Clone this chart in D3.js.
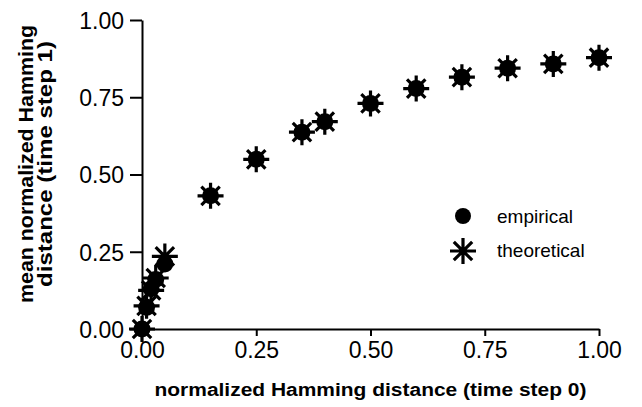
<!DOCTYPE html>
<html>
<head>
<meta charset="utf-8">
<script src="https://cdn.jsdelivr.net/npm/d3@7"></script>
<style>
  html, body { margin: 0; padding: 0; background: #fff; }
  svg { display: block; }
  text { font-family: "Liberation Sans", Arial, sans-serif; fill: #000; }
</style>
</head>
<body>
<svg id="chart" width="642" height="407"></svg>
<script>
// ---- data ----
const xValues = [0, 0.01, 0.02, 0.03, 0.05, 0.15, 0.25, 0.35, 0.40, 0.50, 0.60, 0.70, 0.80, 0.90, 1.00];
const empirical = [0, 0.07, 0.13, 0.16, 0.21, 0.431, 0.549, 0.637, 0.671, 0.730, 0.778, 0.815, 0.844, 0.858, 0.878];
const theoretical = [0, 0.075, 0.125, 0.165, 0.235, 0.431, 0.549, 0.637, 0.671, 0.730, 0.778, 0.815, 0.844, 0.858, 0.878];
const xTicks = [0, 0.25, 0.5, 0.75, 1.0];
const yTicks = [0, 0.25, 0.5, 0.75, 1.0];
const seriesNames = ["empirical", "theoretical"];
const xTitle = "normalized Hamming distance (time step 0)";
const yTitleLines = ["mean normalized Hamming", "distance (time step 1)"];

// ---- layout ----
const svg = d3.select("#chart");
const x = d3.scaleLinear().domain([0, 1]).range([142, 599]);
const y = d3.scaleLinear().domain([0, 1]).range([329, 20]);

function starPath(r) {
  const p = d3.path();
  for (let k = 0; k < 4; k++) {
    const a = k * Math.PI / 4;
    p.moveTo(-r * Math.cos(a), -r * Math.sin(a));
    p.lineTo(r * Math.cos(a), r * Math.sin(a));
  }
  return p.toString();
}
const STAR = starPath(13);

// axes
const xAxis = d3.axisBottom(x).tickValues(xTicks).tickFormat(d3.format(".2f")).tickSizeInner(7).tickSizeOuter(0).tickPadding(5);
const yAxis = d3.axisLeft(y).tickValues(yTicks).tickFormat(d3.format(".2f")).tickSizeInner(12).tickSizeOuter(0).tickPadding(6);

const gx = svg.append("g").attr("transform", `translate(0,${y(0)})`).call(xAxis);
const gy = svg.append("g").attr("transform", `translate(${x(0)},0)`).call(yAxis);
[gx, gy].forEach(g => {
  g.select(".domain").attr("stroke", "#000").attr("stroke-width", 2);
  g.selectAll(".tick line").attr("stroke", "#000").attr("stroke-width", 2);
  g.selectAll(".tick text").attr("fill", "#000")
    .style("font-family", '"Liberation Sans", Arial, sans-serif');
});
gx.selectAll(".tick text").style("font-size", "23px").attr("dy", "0.72em");
gy.selectAll(".tick text").style("font-size", "23px").attr("dy", "0.36em");

// titles
svg.append("text")
  .attr("x", (x(0) + x(1)) / 2 + 0).attr("y", 396)
  .attr("text-anchor", "middle")
  .attr("textLength", 432).attr("lengthAdjust", "spacingAndGlyphs")
  .style("font-size", "18px").style("font-weight", "bold")
  .text(xTitle);

const yt = svg.append("text")
  .attr("transform", "translate(0,164) rotate(-90)")
  .attr("text-anchor", "middle")
  .style("font-size", "20px").style("font-weight", "bold");
yt.append("tspan").attr("x", 0).attr("y", 33).attr("textLength", 278).attr("lengthAdjust", "spacingAndGlyphs").text(yTitleLines[0]);
yt.append("tspan").attr("x", 0).attr("y", 52).attr("textLength", 246).attr("lengthAdjust", "spacingAndGlyphs").text(yTitleLines[1]);

// marks
const plot = svg.append("g");
plot.selectAll("circle.emp").data(xValues.map((d, i) => [d, empirical[i]]))
  .join("circle").attr("class", "emp")
  .attr("cx", d => x(d[0])).attr("cy", d => y(d[1])).attr("r", 8.5).attr("fill", "#000");
plot.selectAll("path.theo").data(xValues.map((d, i) => [d, theoretical[i]]))
  .join("path").attr("class", "theo")
  .attr("d", STAR)
  .attr("transform", d => `translate(${x(d[0])},${y(d[1])})`)
  .attr("stroke", "#000").attr("stroke-width", 3.2).attr("fill", "none");

// legend
const lg = svg.append("g");
lg.append("circle").attr("cx", 463).attr("cy", 216).attr("r", 8).attr("fill", "#000");
lg.append("text").attr("x", 497).attr("y", 223).style("font-size", "19px").text(seriesNames[0]);
lg.append("path").attr("d", STAR).attr("transform", "translate(463,251)")
  .attr("stroke", "#000").attr("stroke-width", 3.2).attr("fill", "none");
lg.append("text").attr("x", 497).attr("y", 257).style("font-size", "19px").text(seriesNames[1]);
</script>
</body>
</html>
